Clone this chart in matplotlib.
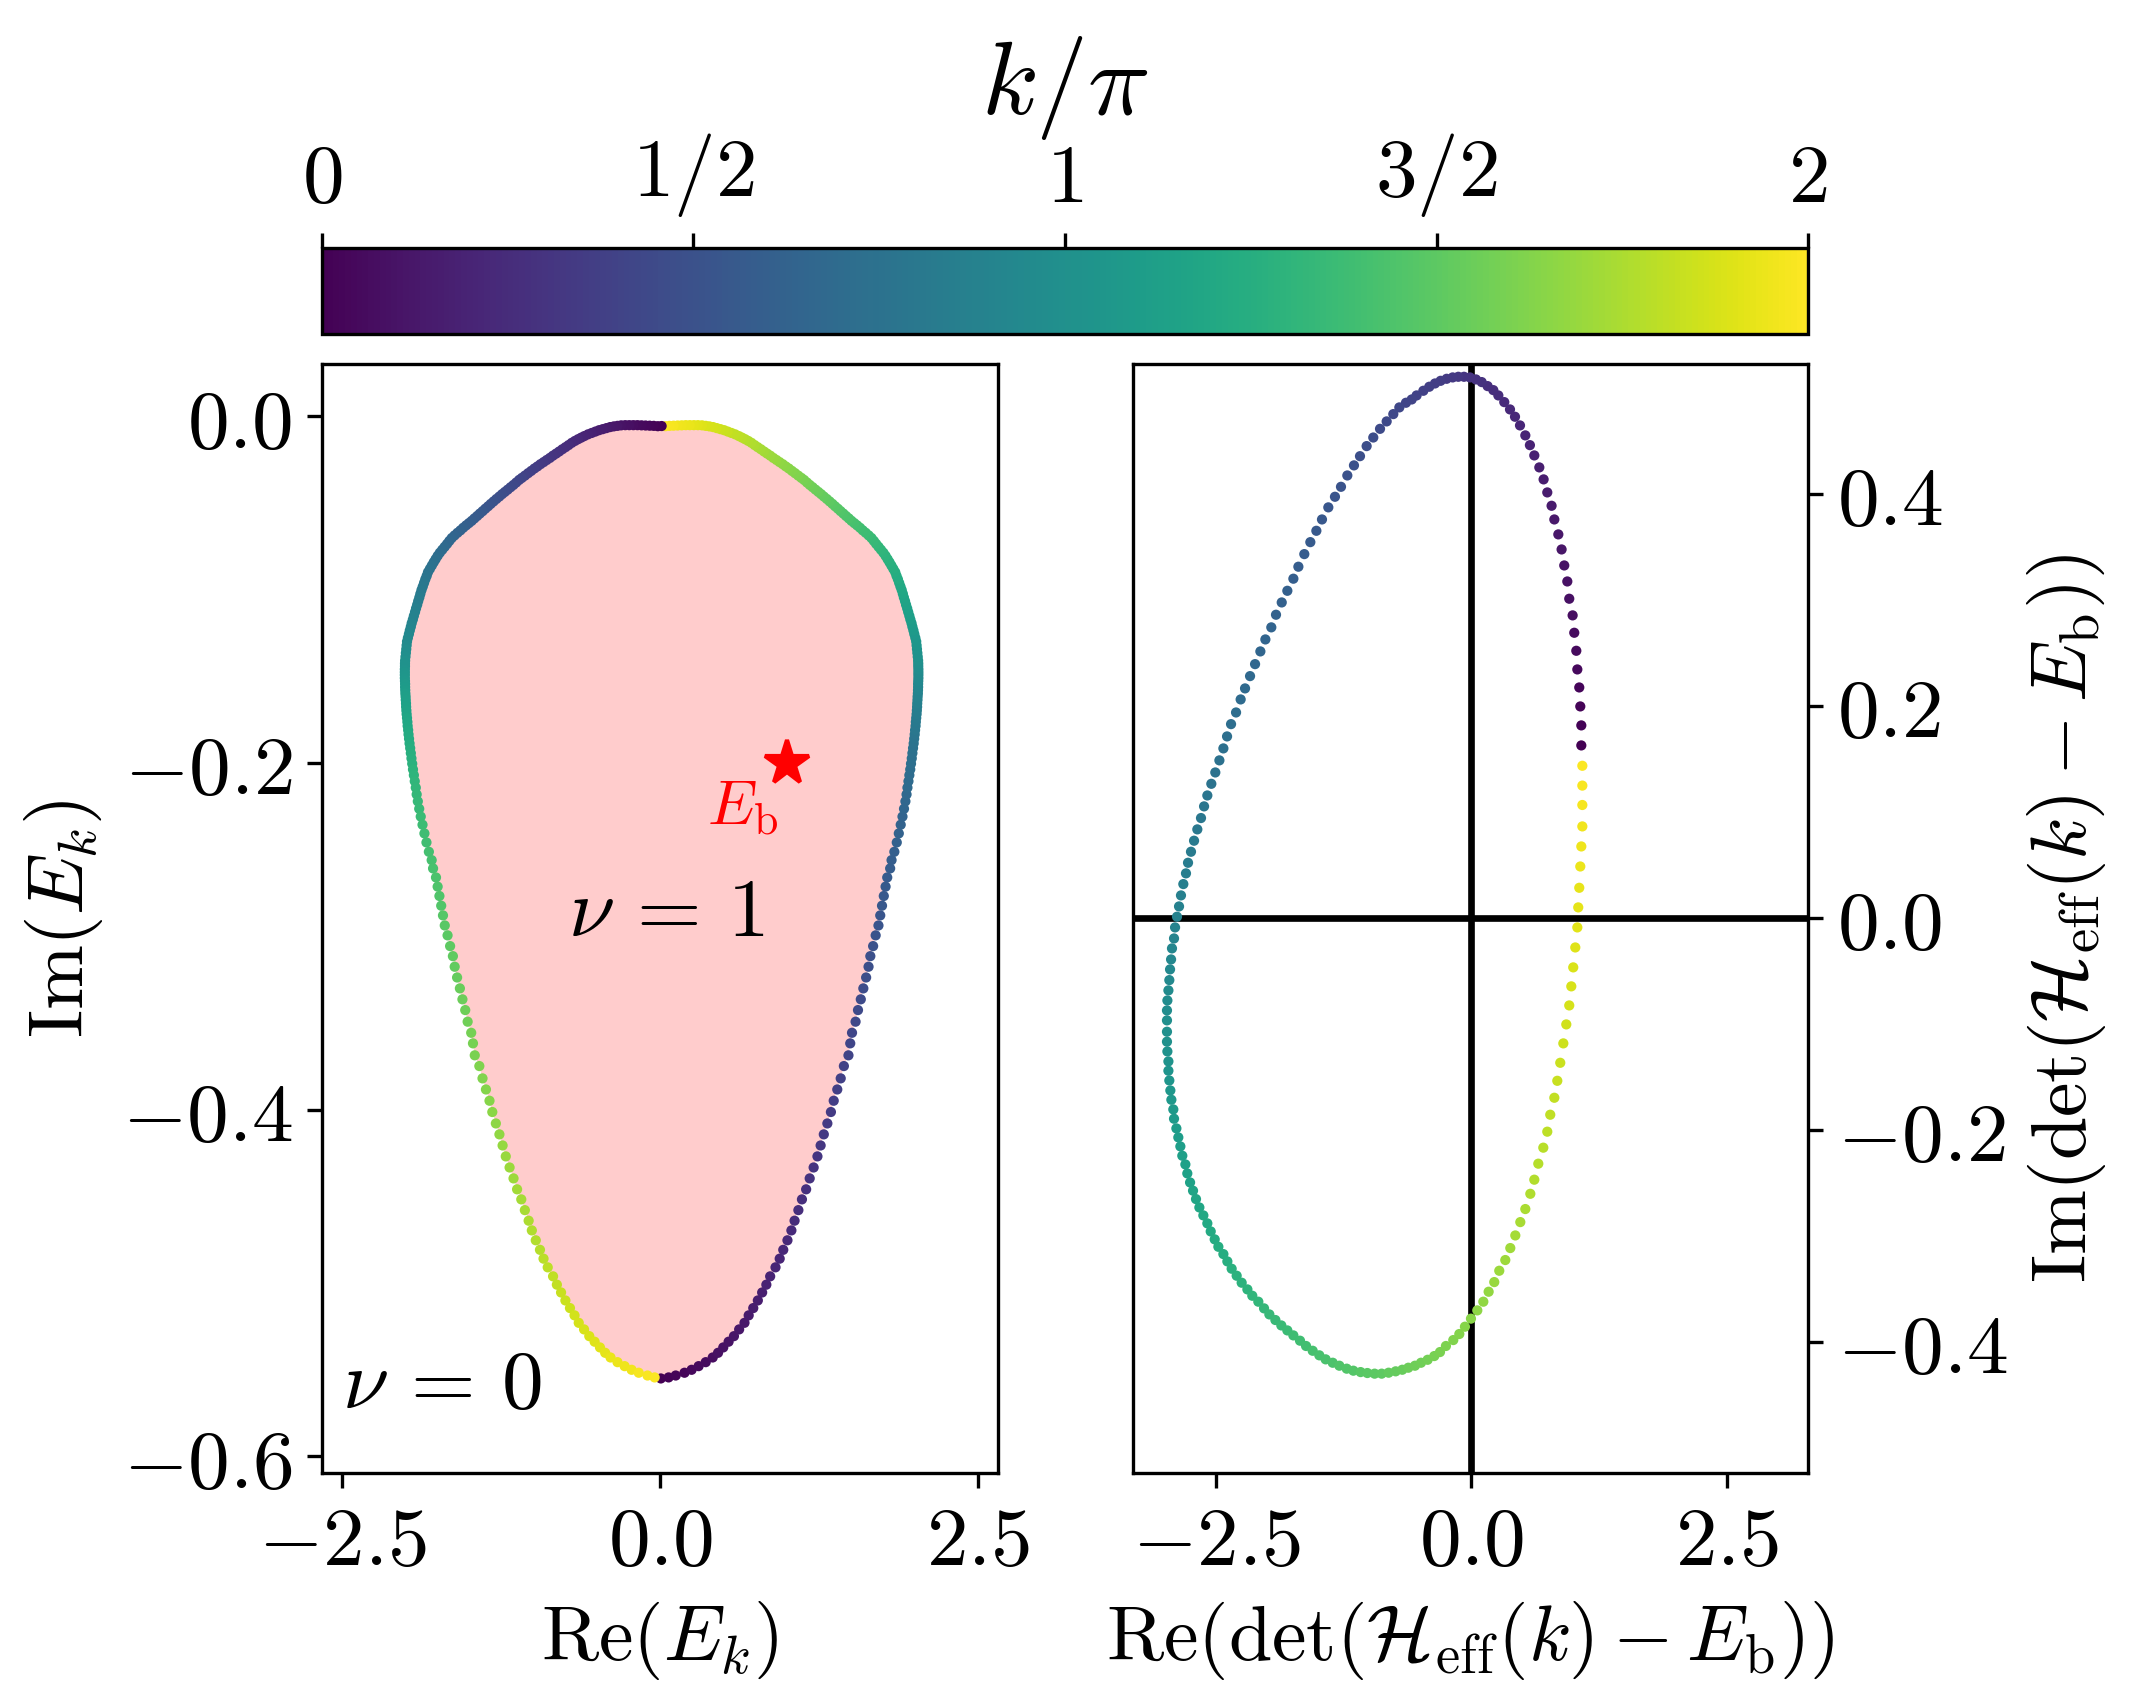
import numpy as np
import matplotlib
matplotlib.use("Agg")
import matplotlib.pyplot as plt

plt.rcParams['mathtext.fontset'] = 'cm'
plt.rcParams['font.family'] = ['DejaVu Serif']

# band A: starts at the bottom of the loop, runs up the right side
a_re = [0.006, 0.067, 0.123, 0.192, 0.248, 0.303, 0.359, 0.414, 0.456, 0.497,
        0.539, 0.581, 0.622, 0.664, 0.697, 0.733, 0.769, 0.803, 0.836, 0.866,
        0.908, 0.941, 0.969, 1.002, 1.033, 1.058, 1.088, 1.116, 1.149, 1.177,
        1.208, 1.238, 1.263, 1.288, 1.316, 1.344, 1.366, 1.394, 1.421, 1.446,
        1.482, 1.496, 1.510, 1.538, 1.557, 1.579, 1.599, 1.621, 1.640, 1.654,
        1.676, 1.696, 1.718, 1.732, 1.746, 1.760, 1.774, 1.787, 1.810, 1.821,
        1.843, 1.862, 1.878, 1.893, 1.907, 1.919, 1.930, 1.939, 1.946, 1.954,
        1.961, 1.968, 1.974, 1.980, 1.985, 1.990, 1.995, 1.999, 2.003, 2.006,
        2.010, 2.012, 2.015, 2.018, 2.020, 2.022, 2.023, 2.025, 2.026, 2.028,
        2.029, 2.030, 2.030, 2.031, 2.032, 2.032, 2.032, 2.032, 2.031, 2.031,
        2.030, 2.027, 2.024, 2.021, 2.018, 2.015, 2.008, 2.000, 1.993, 1.985,
        1.978, 1.969, 1.961, 1.952, 1.944, 1.935, 1.927, 1.918, 1.910, 1.901,
        1.891, 1.881, 1.871, 1.860, 1.850, 1.835, 1.820, 1.805, 1.790, 1.774,
        1.757, 1.738, 1.719, 1.700, 1.682, 1.663, 1.641, 1.618, 1.595, 1.573,
        1.550, 1.528, 1.506, 1.485, 1.463, 1.442, 1.420, 1.399, 1.377, 1.356,
        1.334, 1.312, 1.289, 1.267, 1.245, 1.223, 1.200, 1.178, 1.156, 1.133,
        1.111, 1.087, 1.062, 1.038, 1.013, 0.989, 0.965, 0.940, 0.916, 0.891,
        0.867, 0.842, 0.818, 0.793, 0.768, 0.744, 0.719, 0.694, 0.669, 0.645,
        0.620, 0.591, 0.562, 0.533, 0.504, 0.475, 0.446, 0.417, 0.388, 0.359,
        0.330, 0.298, 0.266, 0.234, 0.202, 0.170, 0.138, 0.106, 0.074, 0.042]
a_im = [-0.5551, -0.5545, -0.5534, -0.5518, -0.5501, -0.5480, -0.5457, -0.5430, -0.5403, -0.5372,
        -0.5339, -0.5307, -0.5268, -0.5230, -0.5187, -0.5145, -0.5101, -0.5055, -0.5010, -0.4962,
        -0.4910, -0.4860, -0.4809, -0.4754, -0.4697, -0.4641, -0.4580, -0.4518, -0.4460, -0.4397,
        -0.4334, -0.4270, -0.4207, -0.4143, -0.4080, -0.4014, -0.3949, -0.3884, -0.3820, -0.3749,
        -0.3687, -0.3618, -0.3557, -0.3493, -0.3426, -0.3364, -0.3301, -0.3238, -0.3176, -0.3115,
        -0.3057, -0.2995, -0.2938, -0.2880, -0.2824, -0.2768, -0.2714, -0.2661, -0.2609, -0.2561,
        -0.2513, -0.2459, -0.2407, -0.2357, -0.2310, -0.2265, -0.2222, -0.2182, -0.2143, -0.2106,
        -0.2071, -0.2038, -0.2005, -0.1974, -0.1944, -0.1915, -0.1888, -0.1861, -0.1836, -0.1811,
        -0.1787, -0.1764, -0.1741, -0.1719, -0.1698, -0.1677, -0.1657, -0.1637, -0.1618, -0.1600,
        -0.1581, -0.1563, -0.1545, -0.1528, -0.1511, -0.1493, -0.1477, -0.1460, -0.1443, -0.1427,
        -0.1410, -0.1388, -0.1366, -0.1344, -0.1322, -0.1300, -0.1279, -0.1257, -0.1236, -0.1215,
        -0.1194, -0.1173, -0.1152, -0.1130, -0.1109, -0.1088, -0.1067, -0.1046, -0.1025, -0.1003,
        -0.0983, -0.0962, -0.0941, -0.0921, -0.0900, -0.0881, -0.0862, -0.0843, -0.0825, -0.0806,
        -0.0788, -0.0771, -0.0754, -0.0737, -0.0720, -0.0703, -0.0688, -0.0673, -0.0659, -0.0644,
        -0.0630, -0.0617, -0.0604, -0.0590, -0.0576, -0.0562, -0.0548, -0.0534, -0.0520, -0.0506,
        -0.0492, -0.0478, -0.0464, -0.0450, -0.0437, -0.0424, -0.0410, -0.0397, -0.0383, -0.0368,
        -0.0356, -0.0343, -0.0329, -0.0316, -0.0302, -0.0290, -0.0277, -0.0265, -0.0253, -0.0241,
        -0.0228, -0.0216, -0.0204, -0.0191, -0.0179, -0.0167, -0.0154, -0.0143, -0.0133, -0.0124,
        -0.0115, -0.0105, -0.0097, -0.0089, -0.0081, -0.0075, -0.0069, -0.0063, -0.0059, -0.0056,
        -0.0053, -0.0052, -0.0052, -0.0052, -0.0052, -0.0053, -0.0054, -0.0055, -0.0056, -0.0058]

# band B: starts at the top of the loop, runs down the left side
b_re = [0.012, -0.018, -0.050, -0.082, -0.114, -0.146, -0.178, -0.210, -0.242, -0.274,
        -0.306, -0.335, -0.364, -0.393, -0.422, -0.451, -0.480, -0.509, -0.538, -0.567,
        -0.596, -0.621, -0.645, -0.670, -0.695, -0.720, -0.744, -0.769, -0.794, -0.818,
        -0.843, -0.867, -0.892, -0.916, -0.941, -0.965, -0.989, -1.014, -1.038, -1.063,
        -1.087, -1.109, -1.132, -1.154, -1.176, -1.199, -1.221, -1.243, -1.265, -1.288,
        -1.310, -1.332, -1.353, -1.375, -1.396, -1.418, -1.439, -1.461, -1.482, -1.504,
        -1.526, -1.549, -1.571, -1.594, -1.617, -1.639, -1.658, -1.676, -1.695, -1.714,
        -1.733, -1.750, -1.766, -1.781, -1.796, -1.811, -1.826, -1.836, -1.847, -1.857,
        -1.867, -1.877, -1.886, -1.894, -1.903, -1.911, -1.920, -1.928, -1.937, -1.945,
        -1.954, -1.961, -1.969, -1.976, -1.984, -1.991, -1.994, -1.997, -2.000, -2.003,
        -2.006, -2.007, -2.007, -2.008, -2.008, -2.008, -2.008, -2.007, -2.006, -2.006,
        -2.005, -2.004, -2.002, -2.001, -1.999, -1.998, -1.996, -1.994, -1.991, -1.988,
        -1.986, -1.982, -1.979, -1.975, -1.971, -1.966, -1.961, -1.956, -1.950, -1.944,
        -1.937, -1.930, -1.922, -1.915, -1.906, -1.895, -1.883, -1.869, -1.854, -1.838,
        -1.819, -1.797, -1.786, -1.763, -1.750, -1.736, -1.722, -1.708, -1.694, -1.672,
        -1.652, -1.630, -1.616, -1.597, -1.575, -1.555, -1.533, -1.514, -1.486, -1.472,
        -1.458, -1.422, -1.397, -1.370, -1.342, -1.320, -1.292, -1.264, -1.239, -1.214,
        -1.184, -1.153, -1.125, -1.092, -1.064, -1.034, -1.009, -0.978, -0.945, -0.917,
        -0.884, -0.842, -0.812, -0.779, -0.745, -0.709, -0.673, -0.640, -0.598, -0.557,
        -0.515, -0.473, -0.432, -0.390, -0.335, -0.279, -0.224, -0.168, -0.099, -0.043]
b_im = [-0.0057, -0.0058, -0.0056, -0.0055, -0.0054, -0.0053, -0.0052, -0.0052, -0.0052, -0.0052,
        -0.0053, -0.0056, -0.0059, -0.0063, -0.0069, -0.0075, -0.0081, -0.0089, -0.0097, -0.0105,
        -0.0115, -0.0124, -0.0133, -0.0143, -0.0154, -0.0167, -0.0179, -0.0191, -0.0204, -0.0216,
        -0.0228, -0.0241, -0.0253, -0.0265, -0.0277, -0.0290, -0.0302, -0.0316, -0.0329, -0.0343,
        -0.0356, -0.0368, -0.0383, -0.0397, -0.0410, -0.0424, -0.0437, -0.0450, -0.0464, -0.0478,
        -0.0492, -0.0506, -0.0520, -0.0534, -0.0548, -0.0562, -0.0576, -0.0590, -0.0604, -0.0617,
        -0.0630, -0.0644, -0.0659, -0.0673, -0.0688, -0.0703, -0.0720, -0.0737, -0.0754, -0.0771,
        -0.0788, -0.0806, -0.0825, -0.0843, -0.0862, -0.0881, -0.0900, -0.0921, -0.0941, -0.0962,
        -0.0983, -0.1003, -0.1025, -0.1046, -0.1067, -0.1088, -0.1109, -0.1130, -0.1152, -0.1173,
        -0.1194, -0.1215, -0.1236, -0.1257, -0.1279, -0.1300, -0.1322, -0.1344, -0.1366, -0.1388,
        -0.1410, -0.1427, -0.1443, -0.1460, -0.1477, -0.1493, -0.1511, -0.1528, -0.1545, -0.1563,
        -0.1581, -0.1600, -0.1618, -0.1637, -0.1657, -0.1677, -0.1698, -0.1719, -0.1741, -0.1764,
        -0.1787, -0.1811, -0.1836, -0.1861, -0.1888, -0.1915, -0.1944, -0.1974, -0.2005, -0.2038,
        -0.2071, -0.2106, -0.2143, -0.2182, -0.2222, -0.2265, -0.2310, -0.2357, -0.2407, -0.2459,
        -0.2513, -0.2561, -0.2609, -0.2661, -0.2714, -0.2768, -0.2824, -0.2880, -0.2938, -0.2995,
        -0.3057, -0.3115, -0.3176, -0.3238, -0.3301, -0.3364, -0.3426, -0.3493, -0.3557, -0.3618,
        -0.3687, -0.3749, -0.3820, -0.3884, -0.3949, -0.4014, -0.4080, -0.4143, -0.4207, -0.4270,
        -0.4334, -0.4397, -0.4460, -0.4518, -0.4580, -0.4641, -0.4697, -0.4754, -0.4809, -0.4860,
        -0.4910, -0.4962, -0.5010, -0.5055, -0.5101, -0.5145, -0.5187, -0.5230, -0.5268, -0.5307,
        -0.5339, -0.5372, -0.5403, -0.5430, -0.5457, -0.5480, -0.5501, -0.5518, -0.5534, -0.5545]

# det(H_eff(k) - E_b)
det_re = [1.075, 1.075, 1.065, 1.055, 1.036, 1.026, 1.006, 0.990, 0.957, 0.938,
          0.908, 0.882, 0.850, 0.811, 0.784, 0.742, 0.706, 0.664, 0.615, 0.572,
          0.527, 0.475, 0.426, 0.377, 0.321, 0.263, 0.214, 0.158, 0.100, 0.044,
          -0.015, -0.073, -0.129, -0.184, -0.243, -0.302, -0.357, -0.413, -0.471, -0.537,
          -0.585, -0.641, -0.706, -0.765, -0.830, -0.895, -0.961, -1.026, -1.091, -1.150,
          -1.215, -1.277, -1.336, -1.401, -1.463, -1.518, -1.577, -1.636, -1.694, -1.743,
          -1.802, -1.857, -1.913, -1.959, -2.017, -2.066, -2.118, -2.167, -2.216, -2.259,
          -2.304, -2.353, -2.392, -2.428, -2.467, -2.507, -2.546, -2.585, -2.617, -2.647,
          -2.683, -2.715, -2.745, -2.774, -2.794, -2.820, -2.843, -2.862, -2.882, -2.901,
          -2.911, -2.931, -2.940, -2.950, -2.957, -2.966, -2.976, -2.980, -2.980,
          -2.980, -2.980, -2.976, -2.966, -2.966, -2.957, -2.947, -2.937, -2.918, -2.911,
          -2.888, -2.869, -2.849, -2.830, -2.800, -2.781, -2.754, -2.725, -2.696, -2.663,
          -2.624, -2.585, -2.552, -2.513, -2.477, -2.428, -2.389, -2.347, -2.298, -2.249,
          -2.193, -2.145, -2.086, -2.030, -1.978, -1.919, -1.861, -1.802, -1.743, -1.678,
          -1.619, -1.554, -1.489, -1.427, -1.358, -1.293, -1.221, -1.156, -1.085, -1.019,
          -0.948, -0.879, -0.811, -0.742, -0.677, -0.618, -0.553, -0.494, -0.429, -0.364,
          -0.308, -0.250, -0.178, -0.119, -0.064, -0.005, 0.057, 0.116, 0.168, 0.223,
          0.272, 0.331, 0.380, 0.429, 0.478, 0.527, 0.576, 0.615, 0.654, 0.703,
          0.742, 0.771, 0.811, 0.840, 0.869,
          0.899, 0.928, 0.957, 0.977, 0.996, 1.016, 1.036, 1.045, 1.055, 1.065,
          1.075, 1.085, 1.085, 1.085, 1.085]
det_im = [0.1626, 0.1815, 0.1994, 0.2173, 0.2343, 0.2519, 0.2689, 0.2853, 0.3010, 0.3173,
          0.3324, 0.3475, 0.3617, 0.3758, 0.3887, 0.4013, 0.4136, 0.4249, 0.4362, 0.4459,
          0.4551, 0.4645, 0.4727, 0.4796, 0.4865, 0.4928, 0.4978, 0.5016, 0.5054, 0.5079,
          0.5098, 0.5104, 0.5104, 0.5098, 0.5085, 0.5066, 0.5041, 0.5010, 0.4972, 0.4928,
          0.4890, 0.4859, 0.4815, 0.4752, 0.4683, 0.4613, 0.4531, 0.4450, 0.4355, 0.4268,
          0.4173, 0.4066, 0.3972, 0.3872, 0.3758, 0.3651, 0.3544, 0.3431, 0.3312, 0.3199,
          0.3085, 0.2975, 0.2859, 0.2740, 0.2626, 0.2513, 0.2393, 0.2280, 0.2164, 0.2060,
          0.1937, 0.1827, 0.1711, 0.1598, 0.1485, 0.1371, 0.1264, 0.1154, 0.1051, 0.0941,
          0.0834, 0.0727, 0.0623, 0.0519, 0.0419, 0.0318, 0.0211, 0.0107, 0.0010, -0.0091,
          -0.0195, -0.0289, -0.0393, -0.0487, -0.0588, -0.0685, -0.0780, -0.0874, -0.0968,
          -0.1075, -0.1169, -0.1261, -0.1355, -0.1443, -0.1535, -0.1629, -0.1717, -0.1808, -0.1896,
          -0.1987, -0.2072, -0.2157, -0.2245, -0.2327, -0.2412, -0.2497, -0.2575, -0.2654, -0.2733,
          -0.2808, -0.2883, -0.2959, -0.3034, -0.3104, -0.3173, -0.3242, -0.3311, -0.3377, -0.3443,
          -0.3506, -0.3566, -0.3622, -0.3685, -0.3742, -0.3795, -0.3846, -0.3893, -0.3940, -0.3990,
          -0.4040, -0.4085, -0.4128, -0.4166, -0.4198, -0.4226, -0.4254, -0.4273, -0.4286, -0.4295,
          -0.4301, -0.4301, -0.4292, -0.4279, -0.4264, -0.4245, -0.4226, -0.4198, -0.4170, -0.4135,
          -0.4097, -0.4040, -0.3984, -0.3927, -0.3858, -0.3782, -0.3704, -0.3622, -0.3528, -0.3437,
          -0.3330, -0.3229, -0.3116, -0.2997, -0.2871, -0.2748, -0.2604, -0.2471, -0.2320, -0.2169,
          -0.2018, -0.1858, -0.1698, -0.1538, -0.1368,
          -0.1185, -0.1006, -0.0827, -0.0647, -0.0468, -0.0280, -0.0091, 0.0098, 0.0283, 0.0484,
          0.0673, 0.0862, 0.1064, 0.1247, 0.1434]

e_b = (1.0, -0.2)

left_xticks = [-2.5, 0.0, 2.5]
left_yticks = [0.0, -0.2, -0.4, -0.6]
right_xticks = [-2.5, 0.0, 2.5]
right_yticks = [0.4, 0.2, 0.0, -0.2, -0.4]
cbar_ticks = [0, 0.5, 1, 1.5, 2]
cbar_labels = [r'$0$', r'$1/2$', r'$1$', r'$3/2$', r'$2$']


def tick_text(v):
    return r'$%.1f$' % v if v >= 0 else r'$-%.1f$' % abs(v)


def main():
    fs = 20      # tick labels
    lfs = 18.7   # axis labels
    norm = plt.Normalize(0, 2)
    cmap = plt.get_cmap('viridis')

    fig = plt.figure(figsize=(2132 / 300, 1704 / 300), dpi=300)
    ax1 = fig.add_axes([0.1509, 0.1357, 0.3170, 0.6504])
    ax2 = fig.add_axes([0.5315, 0.1357, 0.3166, 0.6504])
    cax = fig.add_axes([0.1509, 0.8040, 0.6972, 0.0505])

    # left: spectrum E_k
    ka = np.linspace(0, 2, len(a_re), endpoint=False)
    kb = np.linspace(0, 2, len(b_re), endpoint=False)
    ax1.fill(np.concatenate([a_re, b_re]), np.concatenate([a_im, b_im]),
             color='red', alpha=0.2, lw=0, zorder=1)
    ax1.scatter(a_re, a_im, c=ka, cmap=cmap, norm=norm, s=6, lw=0, zorder=3)
    ax1.scatter(b_re, b_im, c=kb, cmap=cmap, norm=norm, s=6, lw=0, zorder=3)
    ax1.plot(e_b[0], e_b[1], marker='*', color='red', ms=11, lw=0, zorder=4)
    ax1.text(0.93, -0.235, r'$E_\mathrm{b}$', color='red', fontsize=15,
             ha='right', va='baseline')
    ax1.text(0.05, -0.30, r'$\nu\,=\,1$', fontsize=fs, ha='center', va='baseline')
    ax1.text(-2.5, -0.572, r'$\nu\,=\,0$', fontsize=fs, ha='left', va='baseline')

    ax1.set_xlim(-2.662, 2.655)
    ax1.set_ylim(-0.6095, 0.0298)
    ax1.set_xticks(left_xticks, [tick_text(v) for v in left_xticks])
    ax1.set_yticks(left_yticks, [tick_text(v) for v in left_yticks])
    ax1.set_xlabel(r'$\mathrm{Re}(E_k)$', fontsize=lfs)
    ax1.set_ylabel(r'$\mathrm{Im}(E_k)$', fontsize=lfs)
    ax1.tick_params(labelsize=fs)

    # right: winding of the determinant
    kd = np.linspace(0, 2, len(det_re), endpoint=False)
    ax2.axhline(0, color='black', lw=1.6, zorder=2)
    ax2.axvline(0, color='black', lw=1.6, zorder=2)
    ax2.scatter(det_re, det_im, c=kd, cmap=cmap, norm=norm, s=6, lw=0, zorder=3)
    ax2.set_xlim(-3.311, 3.295)
    ax2.set_ylim(-0.5236, 0.522)
    ax2.set_xticks(right_xticks, [tick_text(v) for v in right_xticks])
    ax2.set_yticks(right_yticks, [tick_text(v) for v in right_yticks])
    ax2.yaxis.tick_right()
    ax2.yaxis.set_label_position('right')
    ax2.set_xlabel(r'$\mathrm{Re}(\det(\mathcal{H}_\mathrm{eff}(k)-E_\mathrm{b}))$', fontsize=lfs)
    ax2.set_ylabel(r'$\mathrm{Im}(\det(\mathcal{H}_\mathrm{eff}(k)-E_\mathrm{b}))$', fontsize=lfs)
    ax2.tick_params(labelsize=fs)

    # colorbar on top
    sm = plt.cm.ScalarMappable(cmap=cmap, norm=norm)
    cb = fig.colorbar(sm, cax=cax, orientation='horizontal', ticks=cbar_ticks)
    cax.xaxis.set_ticks_position('top')
    cax.xaxis.set_label_position('top')
    cb.set_ticklabels(cbar_labels)
    cb.ax.tick_params(labelsize=fs)
    cb.set_label(r'$k/\pi$', fontsize=25, labelpad=4)

    fig.savefig('out.png', dpi=300)


if __name__ == "__main__":
    main()
